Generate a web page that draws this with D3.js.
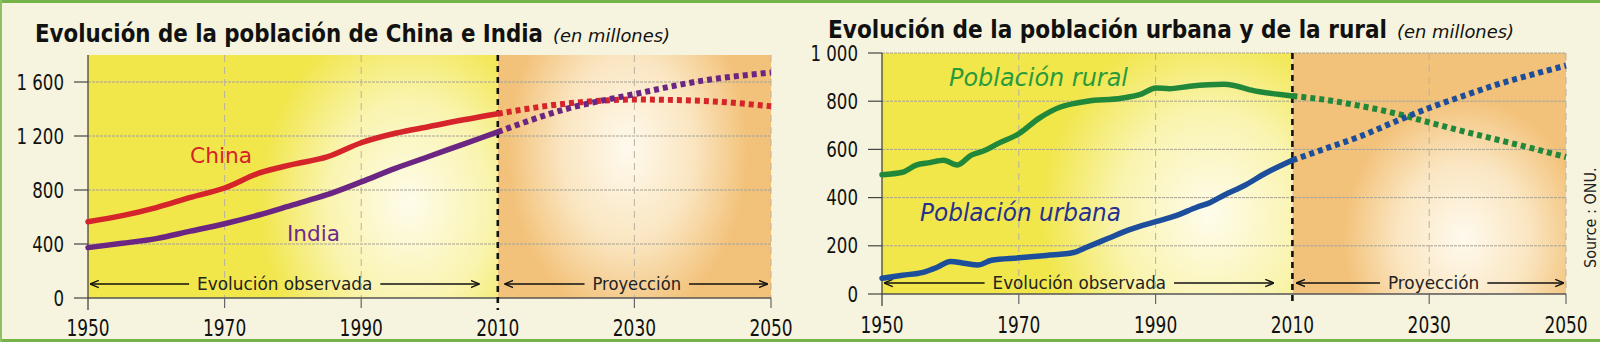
<!DOCTYPE html>
<html>
<head>
<meta charset="utf-8">
<script src="https://d3js.org/d3.v7.min.js"></script>
<title>Evolución de la población</title>
<style>
  body { margin: 0; background: #f6f4de; overflow: hidden; }
  text { font-family: "DejaVu Sans Condensed", "DejaVu Sans", sans-serif; }
</style>
</head>
<body>
<svg id="chart"></svg>
<script>
// ---- data (millones) ----
const ciYearsObs = [1950, 1955, 1960, 1965, 1970, 1975, 1980, 1985, 1990, 1995, 2000, 2005, 2010];
const chinaObs   = [565, 610, 670, 745, 815, 925, 990, 1045, 1150, 1220, 1270, 1320, 1365];
const indiaObs   = [373, 405, 440, 495, 550, 615, 690, 765, 860, 960, 1050, 1140, 1230];
const ciYearsProj = [2010, 2020, 2030, 2040, 2050];
const chinaProj  = [1365, 1440, 1470, 1460, 1420];
const indiaProj  = [1230, 1400, 1510, 1610, 1670];

const ruralYearsObs = [1950, 1953, 1955, 1957, 1959, 1961, 1963, 1965, 1967, 1970, 1973, 1976, 1978, 1980, 1985, 1988, 1990, 1992, 1995, 2000, 2005, 2010];
const ruralObs      = [495, 505, 535, 545, 555, 535, 575, 595, 625, 665, 730, 775, 790, 800, 812, 830, 855, 852, 862, 870, 840, 822];
const urbanYearsObs = [1950, 1953, 1956, 1958, 1960, 1962, 1964, 1966, 1970, 1974, 1978, 1980, 1983, 1986, 1990, 1993, 1996, 1998, 2000, 2003, 2006, 2010];
const urbanObs      = [65, 78, 90, 110, 135, 128, 120, 140, 150, 160, 172, 195, 230, 265, 300, 325, 360, 380, 410, 450, 500, 555];
const urYearsProj = [2010, 2015, 2020, 2025, 2030, 2035, 2040, 2045, 2050];
const ruralProj   = [822, 805, 780, 750, 712, 675, 640, 605, 568];
const urbanProj   = [555, 605, 655, 715, 772, 822, 870, 910, 948];

const xTicks = [1950, 1970, 1990, 2010, 2030, 2050];
const ciYTicks = [0, 400, 800, 1200, 1600];
const ciYLabels = ["0", "400", "800", "1 200", "1 600"];
const urYTicks = [0, 200, 400, 600, 800, 1000];
const urYLabels = ["0", "200", "400", "600", "800", "1 000"];

const width = 1600, height = 342;
const svg = d3.select("#chart").attr("width", width).attr("height", height);
const defs = svg.append("defs");

// paper + green edges
svg.append("rect").attr("width", width).attr("height", height).attr("fill", "#f6f4de");
svg.append("rect").attr("width", width).attr("height", 3).attr("fill", "#74b348");
svg.append("rect").attr("y", 339).attr("width", width).attr("height", 3).attr("fill", "#74b348");
svg.append("rect").attr("width", 2).attr("height", height).attr("fill", "#8cc060");

const glow = defs.append("radialGradient").attr("id", "glow");
glow.append("stop").attr("offset", "0%").attr("stop-color", "#fffdf4").attr("stop-opacity", 0.95);
glow.append("stop").attr("offset", "55%").attr("stop-color", "#fffdf0").attr("stop-opacity", 0.6);
glow.append("stop").attr("offset", "100%").attr("stop-color", "#fffdf0").attr("stop-opacity", 0);

defs.append("marker").attr("id", "arrow").attr("viewBox", "0 0 10 10")
    .attr("refX", 9).attr("refY", 5).attr("markerWidth", 9).attr("markerHeight", 9)
    .attr("markerUnits", "userSpaceOnUse").attr("orient", "auto-start-reverse")
  .append("path").attr("d", "M0,1 L10,5 L0,9").attr("fill", "none").attr("stroke", "#111").attr("stroke-width", 1.6);

// squeeze a text horizontally to look like the narrow print face
function narrow(sel, k) {
    sel.each(function () {
        const w = this.getComputedTextLength();
        d3.select(this).attr("textLength", w * k).attr("lengthAdjust", "spacingAndGlyphs");
    });
}

function drawPanel(p) {
    const x = d3.scaleLinear().domain([1950, 2050]).range(p.xr);
    const y = d3.scaleLinear().domain(p.yd).range(p.yr);
    const g = svg.append("g");
    const top = p.yr[1], base = p.yr[0];
    const xs = x(2010);

    // background: observed (yellow) and projection (orange)
    defs.append("clipPath").attr("id", p.id + "obs")
        .append("rect").attr("x", p.xr[0]).attr("y", top).attr("width", xs - p.xr[0]).attr("height", base - top);
    defs.append("clipPath").attr("id", p.id + "proj")
        .append("rect").attr("x", xs).attr("y", top).attr("width", p.xr[1] - xs).attr("height", base - top);
    const bgObs = g.append("g").attr("clip-path", `url(#${p.id}obs)`);
    bgObs.append("rect").attr("x", p.xr[0]).attr("y", top).attr("width", xs - p.xr[0]).attr("height", base - top).attr("fill", "#f1e64a");
    p.glowObs.forEach(e => bgObs.append("ellipse").attr("cx", x(e[0])).attr("cy", y(e[1])).attr("rx", e[2]).attr("ry", e[3]).attr("fill", "url(#glow)"));
    const bgProj = g.append("g").attr("clip-path", `url(#${p.id}proj)`);
    bgProj.append("rect").attr("x", xs).attr("y", top).attr("width", p.xr[1] - xs).attr("height", base - top).attr("fill", "#f3c27a");
    p.glowProj.forEach(e => bgProj.append("ellipse").attr("cx", x(e[0])).attr("cy", y(e[1])).attr("rx", e[2]).attr("ry", e[3]).attr("fill", "url(#glow)"));

    // gridlines
    g.selectAll(".hg").data(p.yTicks.filter(d => d > 0)).join("line")
        .attr("x1", p.xr[0]).attr("x2", p.xr[1]).attr("y1", d => y(d)).attr("y2", d => y(d))
        .attr("stroke", "#a8a290").attr("stroke-width", 1).attr("stroke-dasharray", "3,1");
    g.selectAll(".vg").data([1970, 1990, 2030, 2050]).join("line")
        .attr("x1", d => x(d)).attr("x2", d => x(d)).attr("y1", top).attr("y2", base)
        .attr("stroke", "#b8b2a0").attr("stroke-width", 1).attr("stroke-dasharray", "7,5");

    // axes
    g.append("line").attr("x1", p.xr[0]).attr("x2", p.xr[1]).attr("y1", base).attr("y2", base)
        .attr("stroke", "#555").attr("stroke-width", 1.3);
    g.append("line").attr("x1", p.xr[0]).attr("x2", p.xr[0]).attr("y1", top).attr("y2", base + 12)
        .attr("stroke", "#444").attr("stroke-width", 1.3);
    g.selectAll(".xt").data(xTicks.filter(d => d !== 1950 && d !== 2010)).join("line")
        .attr("x1", d => x(d)).attr("x2", d => x(d)).attr("y1", base).attr("y2", base + 10)
        .attr("stroke", "#666").attr("stroke-width", 1.2);
    g.selectAll(".yt").data(p.yTicks).join("line")
        .attr("x1", p.xr[0] - 14).attr("x2", p.xr[0]).attr("y1", d => y(d)).attr("y2", d => y(d))
        .attr("stroke", "#444").attr("stroke-width", 1.2);
    g.selectAll(".yl").data(p.yTicks).join("text")
        .attr("x", p.xr[0] - 24).attr("y", d => y(d)).attr("dy", "0.36em")
        .attr("text-anchor", "end").attr("font-size", 21).attr("fill", "#111")
        .text((d, i) => p.yLabels[i])
        .call(narrow, 0.88);
    g.selectAll(".xl").data(xTicks).join("text")
        .attr("x", d => x(d)).attr("y", p.xLabelY).attr("text-anchor", "middle")
        .attr("font-size", 23).attr("fill", "#111").text(d => d)
        .call(narrow, 0.82);

    // 2010 separator
    g.append("line").attr("x1", xs).attr("x2", xs).attr("y1", top).attr("y2", base + 12)
        .attr("stroke", "#111").attr("stroke-width", 2.6).attr("stroke-dasharray", "6,5");

    // period arrows
    p.arrows.forEach(a => {
        g.append("line").attr("x1", x(a[0])).attr("x2", x(a[1])).attr("y1", p.arrowY).attr("y2", p.arrowY)
            .attr("stroke", "#111").attr("stroke-width", 1.6).attr("marker-start", "url(#arrow)");
        g.append("line").attr("x1", x(a[2])).attr("x2", x(a[3])).attr("y1", p.arrowY).attr("y2", p.arrowY)
            .attr("stroke", "#111").attr("stroke-width", 1.6).attr("marker-end", "url(#arrow)");
        g.append("text").attr("x", (x(a[1]) + x(a[2])) / 2).attr("y", p.arrowY + 6)
            .attr("text-anchor", "middle").attr("font-size", 17).attr("fill", "#222")
            .attr("textLength", x(a[2]) - x(a[1]) - 16).attr("lengthAdjust", "spacingAndGlyphs")
            .text(a[4]);
    });

    // series
    const line = d3.line().x(d => x(d[0])).y(d => y(d[1])).curve(d3.curveMonotoneX);
    p.series.forEach(s => {
        g.append("path").datum(d3.zip(s.yearsObs, s.obs)).attr("d", line)
            .attr("fill", "none").attr("stroke", s.color).attr("stroke-width", 5.5).attr("stroke-linejoin", "round").attr("stroke-linecap", "round");
        g.append("path").datum(d3.zip(s.yearsProj, s.proj)).attr("d", line)
            .attr("fill", "none").attr("stroke", s.color).attr("stroke-width", 6).attr("stroke-dasharray", "5,4");
        g.append("text").attr("x", s.lx).attr("y", s.ly).attr("font-size", s.fs)
            .attr("font-style", s.italic ? "italic" : "normal").attr("fill", s.labelColor)
            .attr("textLength", s.lw).attr("lengthAdjust", "spacingAndGlyphs").text(s.label);
    });

    // title
    const t = g.append("text").attr("y", p.titleY);
    t.append("tspan").attr("x", p.titleX).attr("font-size", 24).attr("font-weight", "bold").attr("fill", "#111")
        .attr("textLength", p.titleW).attr("lengthAdjust", "spacingAndGlyphs").text(p.title);
    t.append("tspan").attr("x", p.titleX + p.titleW + 10).attr("font-size", 17).attr("font-style", "italic").attr("fill", "#111")
        .attr("textLength", 117).attr("lengthAdjust", "spacingAndGlyphs").text("(en millones)");
}

drawPanel({
    id: "ci", xr: [88, 771], yd: [0, 1800], yr: [298, 55],
    yTicks: ciYTicks, yLabels: ciYLabels, xLabelY: 336,
    title: "Evolución de la población de China e India", titleX: 35, titleY: 42, titleW: 508,
    glowObs: [[1997, 700, 150, 190]], glowProj: [[2029, 1100, 120, 170]],
    arrowY: 284,
    arrows: [[1950.4, 1964.8, 1992.8, 2007.2, "Evolución observada"], [2011.1, 2022.7, 2038, 2049.4, "Proyección"]],
    series: [
        { yearsObs: ciYearsObs, obs: chinaObs, yearsProj: ciYearsProj, proj: chinaProj, color: "#d6242b",
          label: "China", labelColor: "#d8232a", lx: 190, ly: 163, fs: 22, lw: 62 },
        { yearsObs: ciYearsObs, obs: indiaObs, yearsProj: ciYearsProj, proj: indiaProj, color: "#6a2682",
          label: "India", labelColor: "#6e2a8c", lx: 287, ly: 241, fs: 22, lw: 53 }
    ]
});

drawPanel({
    id: "ur", xr: [882, 1566], yd: [0, 1000], yr: [294, 53],
    yTicks: urYTicks, yLabels: urYLabels, xLabelY: 333,
    title: "Evolución de la población urbana y de la rural", titleX: 828, titleY: 38, titleW: 559,
    glowObs: [[1998, 330, 170, 190]], glowProj: [[2035, 230, 120, 140]],
    arrowY: 283,
    arrows: [[1950.4, 1965, 1992.7, 2007.2, "Evolución observada"], [2010.7, 2022.8, 2038.5, 2049.6, "Proyección"]],
    series: [
        { yearsObs: ruralYearsObs, obs: ruralObs, yearsProj: urYearsProj, proj: ruralProj, color: "#21883a",
          label: "Población rural", labelColor: "#2a9b3c", lx: 949, ly: 86, fs: 24, lw: 179, italic: true },
        { yearsObs: urbanYearsObs, obs: urbanObs, yearsProj: urYearsProj, proj: urbanProj, color: "#1d4e9c",
          label: "Población urbana", labelColor: "#26318e", lx: 920, ly: 221, fs: 24, lw: 201, italic: true }
    ]
});

// source, rotated
svg.append("text").attr("transform", "translate(1596,268) rotate(-90)")
    .attr("font-size", 16).attr("fill", "#222").text("Source : ONU.");
</script>
</body>
</html>
